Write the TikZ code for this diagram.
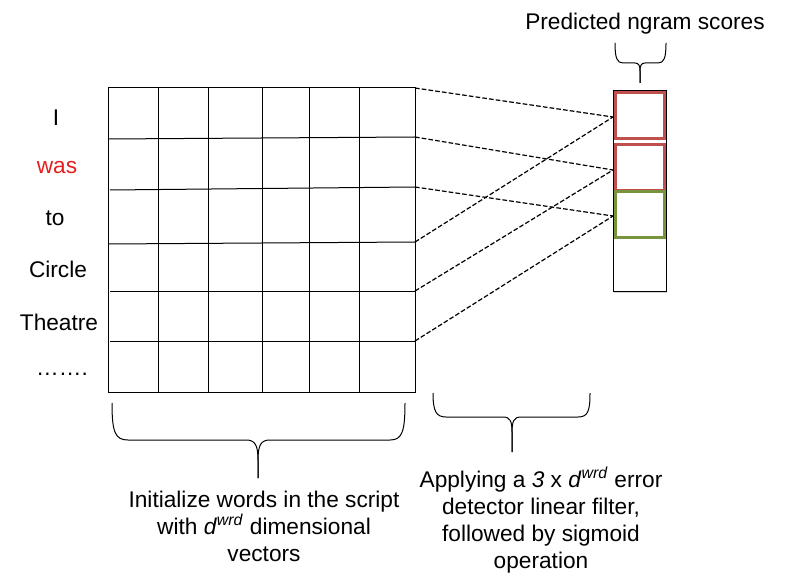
\documentclass[tikz,border=0pt]{standalone}
\usepackage{fontspec}
\setmainfont{Liberation Sans}
\usetikzlibrary{shadows}
\definecolor{wordred}{RGB}{230,30,30}
\definecolor{boxred}{RGB}{192,80,77}
\definecolor{boxgreen}{RGB}{119,147,60}
\tikzset{every picture/.style={line width=0.75pt}}
\tikzset{
  word/.style={inner sep=0.75pt,font=\fontsize{17}{20}\selectfont},
  caption/.style={inner sep=0.75pt,align=center,font=\fontsize{17}{20.25}\selectfont},
  link/.style={dash pattern=on 3.5pt off 1.6pt,line width=0.9pt},
}

\begin{document}
\begin{tikzpicture}[x=0.75pt,y=0.75pt,yscale=-1,xscale=1]
\useasboundingbox (0,0) rectangle (798,584);

%Shape: Grid of word vectors
\draw (108,88) -- (415,88) -- (415,392) -- (108,392) -- cycle ;
\foreach \gx in {158,208,262,309,359} {
  \draw (\gx,88) -- (\gx,392) ;
}
\draw (108,139) -- (415,137) ;
\draw (110,190) -- (415,187) ;
\draw (108,244) -- (415,242) ;
\draw (110,291) -- (415,291) ;
\draw (110,341) -- (415,341) ;

% right edge of the rows
\coordinate (r0) at (415,88) ;
\coordinate (r1) at (415,137) ;
\coordinate (r2) at (415,187) ;
\coordinate (r3) at (415,242) ;
\coordinate (r4) at (415,291) ;
\coordinate (r5) at (415,341) ;

%Shape: Score column
\draw [fill=white,drop shadow={shadow xshift=1pt,shadow yshift=-1.5pt,opacity=0.35}] (613,91) -- (666,91) -- (666,291) -- (613,291) -- cycle ;
\draw (613,238) -- (666,238) ;
\draw [draw=boxred,line width=2.25pt] (615,93) -- (664,93) -- (664,139) -- (615,139) -- cycle ;
\draw [draw=boxred,line width=2.25pt] (615,145) -- (664,145) -- (664,191) -- (615,191) -- cycle ;
\draw [draw=boxgreen,line width=2.25pt] (615,192) -- (664,192) -- (664,238) -- (615,238) -- cycle ;

\coordinate (s1) at (613,117) ;
\coordinate (s2) at (613,170) ;
\coordinate (s3) at (613,216) ;

% dashed filter connections
\draw [link] (r0) -- (s1) ;
\draw [link] (r1) -- (s2) ;
\draw [link] (r2) -- (s3) ;
\draw [link] (r3) -- (s1) ;
\draw [link] (r4) -- (s2) ;
\draw [link] (r5) -- (s3) ;

% Text Node: words
\node [word] (wI) at (56,118) {I};
\node [word,text=wordred] (wWas) at (57,168) {was};
\node [word] (wTo) at (55,218) {to};
\node [word] (wCircle) at (58,269) {Circle};
\node [word] (wTheatre) at (59,322) {Theatre};
\node [word] (wDots) at (62,374) {……. };

%Shape: Brace under the grid
\draw (112,403) .. controls (112,432) and (115,440) .. (128,440) -- (246,440) .. controls (255,440) and (258,445) .. (258,460) -- (258,478) ;
\draw (258,478) -- (258,460) .. controls (258,445) and (261,440) .. (270,440) -- (390,440) .. controls (402,440) and (405,432) .. (405,403) ;

%Shape: Brace under the filter
\draw (433,393) .. controls (433,411) and (436,417) .. (446,417) -- (503,417) .. controls (510,417) and (512,421) .. (512,432) -- (512,452) ;
\draw (512,452) -- (512,432) .. controls (512,421) and (514,417) .. (521,417) -- (578,417) .. controls (588,417) and (590,411) .. (590,393) ;

%Shape: Brace above the scores
\draw (615,43) .. controls (615,58) and (617,63) .. (623,63) -- (635,63) .. controls (639,63) and (640,66) .. (640,71) -- (640,83) ;
\draw (640,83) -- (640,71) .. controls (640,66) and (641,63) .. (645,63) -- (658,63) .. controls (664,63) and (666,58) .. (666,43) ;

% Text Node: captions
\node [caption] (capScores) at (645,24) {Predicted ngram scores};
\node [caption] (capInit) at (264,526) {Initialize words in the script\\with \textit{d}\textsuperscript{\textit{wrd}} dimensional\\vectors};
\node [caption] (capFilter) at (541,520) {Applying a \textit{3} x \textit{d}\textsuperscript{\textit{wrd}} error\\detector linear filter,\\followed by sigmoid\\operation};
\end{tikzpicture}
\end{document}
